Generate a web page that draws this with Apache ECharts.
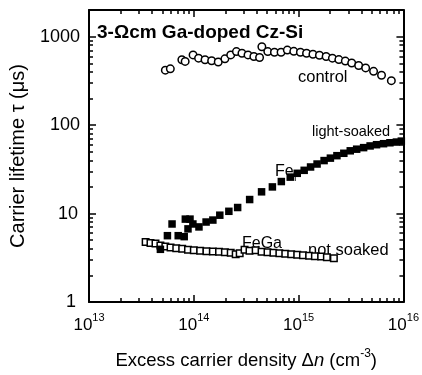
<!DOCTYPE html>
<html>
<head>
<meta charset="utf-8">
<script src="https://cdn.jsdelivr.net/npm/echarts@6/dist/echarts.min.js"></script>
<style>
  html, body { margin: 0; padding: 0; background: #fff; }
  #chart { width: 422px; height: 375px; }
</style>
</head>
<body>
<div id="chart"></div>
<script>
// control (open circles)
const controlX = [5.35e13, 5.97e13, 7.69e13, 8.27e13, 9.84e13, 1.11e14, 1.28e14, 1.48e14, 1.71e14, 1.98e14, 2.25e14, 2.55e14, 2.88e14, 3.29e14, 3.74e14, 4.24e14, 4.46e14, 5.08e14, 5.88e14, 6.8e14, 7.8e14, 8.99e14, 1.04e15, 1.19e15, 1.37e15, 1.58e15, 1.83e15, 2.1e15, 2.42e15, 2.79e15, 3.21e15, 3.74e15, 4.36e15, 5.19e15, 6.18e15, 7.67e15];
const controlY = [418, 432, 547, 525, 621, 571, 547, 533, 516, 561, 621, 677, 648, 621, 596, 581, 768, 677, 665, 665, 704, 682, 665, 648, 632, 615, 596, 571, 550, 529, 503, 472, 443, 405, 366, 318];

// light-soaked (filled squares)
const soakedX = [4.8e13, 5.6e13, 6.2e13, 7.1e13, 8.1e13, 8.3e13, 9.2e13, 8.8e13, 9.8e13, 1.12e14, 1.31e14, 1.52e14, 1.77e14, 2.16e14, 2.62e14, 3.41e14, 4.43e14, 5.62e14, 6.84e14, 8.32e14, 9.7e14, 1.13e15, 1.3e15, 1.5e15, 1.75e15, 2.01e15, 2.32e15, 2.7e15, 3.11e15, 3.58e15, 4.17e15, 4.81e15, 5.54e15, 6.46e15, 7.43e15, 8.57e15, 9.55e15];
const soakedY = [3.94, 5.62, 7.62, 5.62, 5.48, 8.65, 8.65, 6.71, 7.62, 7.06, 8.02, 8.44, 9.58, 10.6, 11.7, 14.4, 17.6, 20, 23, 25.8, 28.5, 30.8, 33.6, 36.3, 39.7, 42.3, 45.1, 48, 51.2, 53.4, 55.6, 58.1, 60, 61.6, 63.1, 64.3, 65.9];

// not soaked (open squares)
const notSoakedX = [3.47e13, 3.86e13, 4.31e13, 4.8e13, 5.35e13, 6.0e13, 6.8e13, 7.75e13, 8.8e13, 1.0e14, 1.15e14, 1.32e14, 1.52e14, 1.74e14, 1.98e14, 2.25e14, 2.51e14, 2.74e14, 3.05e14, 3.4e14, 3.89e14, 4.43e14, 5.05e14, 5.75e14, 6.55e14, 7.46e14, 8.5e14, 9.7e14, 1.1e15, 1.26e15, 1.43e15, 1.64e15, 1.86e15, 2.17e15];
const notSoakedY = [4.76, 4.65, 4.59, 4.36, 4.25, 4.14, 4.04, 3.99, 3.89, 3.84, 3.79, 3.74, 3.72, 3.70, 3.65, 3.60, 3.47, 3.56, 3.89, 3.79, 3.84, 3.70, 3.65, 3.60, 3.56, 3.51, 3.47, 3.43, 3.38, 3.34, 3.30, 3.26, 3.21, 3.13];

// tick labels
const xMajor = [1e13, 1e14, 1e15, 1e16];
const yMajor = [1, 10, 100, 1000];

const FONT = '"Liberation Sans", Arial, sans-serif';

function minorTicks(decades) {
  const out = [];
  decades.forEach((d) => {
    for (let k = 2; k <= 9; k++) out.push(d * k);
  });
  return out;
}
const xMinor = minorTicks([1e13, 1e14, 1e15]);
const yMinor = minorTicks([1, 10, 100, 1000]).filter((v) => v < 2000);

function pairs(xs, ys) {
  return xs.map((x, i) => [x, ys[i]]);
}

function axis(dim, pos, major, minor, isMinor, showLabel) {
  const isX = dim === "x";
  const a = {
    type: "log",
    logBase: 10,
    position: pos,
    min: isX ? 1e13 : 1,
    max: isX ? 1e16 : 2000,
    splitLine: { show: false },
    axisLine: {
      show: !isMinor,
      onZero: false,
      lineStyle: { color: "#000", width: 2 },
    },
    axisTick: {
      show: true,
      inside: true,
      length: isMinor ? 4 : 7,
      customValues: isMinor ? minor : major,
      lineStyle: { color: "#000", width: 1.5 },
    },
    axisLabel: { show: false },
  };
  if (showLabel && isX) {
    a.axisLabel = {
      show: true,
      customValues: major,
      margin: 10,
      formatter: (v) => "{b|10}{s|" + Math.round(Math.log10(v)) + "}",
      rich: {
        b: { fontSize: 17, fontFamily: FONT, color: "#000", lineHeight: 22, verticalAlign: "bottom" },
        s: { fontSize: 11, fontFamily: FONT, color: "#000", lineHeight: 11, verticalAlign: "top" },
      },
    };
  } else if (showLabel) {
    a.axisLabel = {
      show: true,
      customValues: major,
      margin: 9,
      formatter: (v) => {
        const n = Math.round(v);
        if (n === 1) return "{o|1}";
        if (n === 10) return "{t|10}";
        return "{n|" + n + "}";
      },
      rich: {
        n: { fontSize: 18, fontFamily: FONT, color: "#000" },
        t: { fontSize: 18, fontFamily: FONT, color: "#000", padding: [0, 2, 0, 0] },
        o: { fontSize: 18, fontFamily: FONT, color: "#000", padding: [0, 4, 0, 0] },
      },
    };
  }
  return a;
}

const chartInstance = echarts.init(document.getElementById("chart"));

const xAxes = [
  axis("x", "bottom", xMajor, xMinor, false, true),
  axis("x", "bottom", xMajor, xMinor, true, false),
  axis("x", "top", xMajor, xMinor, false, false),
  axis("x", "top", xMajor, xMinor, true, false),
];
xAxes[0].name = "{a|Excess carrier density Δ}{i|n}{a| (cm}{s|-3}{a|)}";
xAxes[0].nameLocation = "middle";
xAxes[0].nameGap = 46;
xAxes[0].nameTextStyle = {
  rich: {
    a: { fontSize: 18.5, fontFamily: FONT, color: "#000", lineHeight: 22, verticalAlign: "bottom" },
    i: { fontSize: 18.5, fontFamily: FONT, fontStyle: "italic", color: "#000", lineHeight: 22, verticalAlign: "bottom" },
    s: { fontSize: 12, fontFamily: FONT, color: "#000", lineHeight: 12, verticalAlign: "top" },
  },
};

const yAxes = [
  axis("y", "left", yMajor, yMinor, false, true),
  axis("y", "left", yMajor, yMinor, true, false),
  axis("y", "right", yMajor, yMinor, false, false),
  axis("y", "right", yMajor, yMinor, true, false),
];
yAxes[0].name = "Carrier lifetime τ (μs)";
yAxes[0].nameLocation = "middle";
yAxes[0].nameGap = 61;
yAxes[0].nameTextStyle = { fontSize: 20, fontFamily: FONT, color: "#000" };

const option = {
  animation: false,
  backgroundColor: "#fff",
  grid: { left: 88, right: 17, top: 10, bottom: 65, containLabel: false },
  xAxis: xAxes,
  yAxis: yAxes,
  series: [
    {
      name: "control",
      type: "scatter",
      symbol: "circle",
      symbolSize: 7.5,
      itemStyle: { color: "#fff", borderColor: "#000", borderWidth: 1.5, opacity: 1 },
      data: pairs(controlX, controlY),
    },
    {
      name: "not soaked",
      type: "scatter",
      symbol: "rect",
      symbolSize: 6.5,
      itemStyle: { color: "#fff", borderColor: "#000", borderWidth: 1.5, opacity: 1 },
      data: pairs(notSoakedX, notSoakedY),
    },
    {
      name: "light-soaked",
      type: "scatter",
      symbol: "rect",
      symbolSize: 7.5,
      itemStyle: { color: "#000", opacity: 1 },
      data: pairs(soakedX, soakedY),
    },
  ],
  graphic: [
    { type: "text", x: 97, y: 33, style: { text: "3-Ωcm Ga-doped Cz-Si", font: "bold 19px " + FONT, fill: "#000", verticalAlign: "middle" } },
    { type: "text", x: 298, y: 77, style: { text: "control", font: "16.5px " + FONT, fill: "#000", verticalAlign: "middle" } },
    { type: "text", x: 312, y: 132, style: { text: "light-soaked", font: "14.5px " + FONT, fill: "#000", verticalAlign: "middle" } },
    { type: "text", x: 275, y: 172, style: { text: "Fe", font: "16px " + FONT, fill: "#000", verticalAlign: "middle" } },
    { type: "text", x: 294, y: 178, style: { text: "i", font: "11px " + FONT, fill: "#000", verticalAlign: "middle" } },
    { type: "text", x: 242, y: 244, style: { text: "FeGa", font: "16px " + FONT, fill: "#000", verticalAlign: "middle" } },
    { type: "text", x: 308, y: 250, style: { text: "not soaked", font: "16.5px " + FONT, fill: "#000", verticalAlign: "middle" } },
  ],
};

chartInstance.setOption(option);
</script>
</body>
</html>
